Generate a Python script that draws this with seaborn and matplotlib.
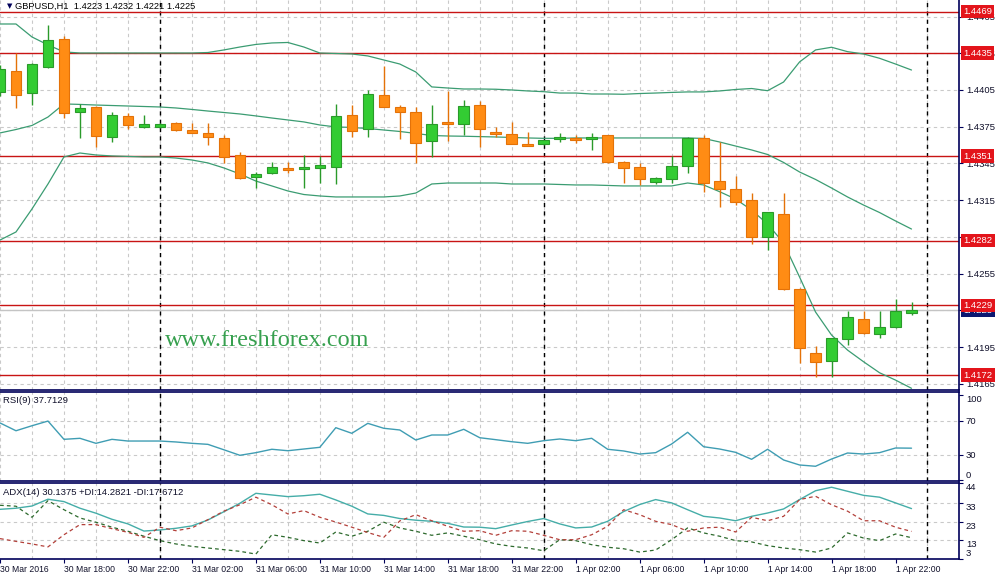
# -*- coding: utf-8 -*-

import numpy as np
import seaborn as sns
import matplotlib.pyplot as plt
from matplotlib import rcParams
from matplotlib.transforms import blended_transform_factory


# GBPUSD H1 bars, 30 Mar 2016 14:00 .. 1 Apr 2016 23:00
bars = np.arange(58)

opens = [1.44036, 1.44205, 1.44023, 1.44240, 1.44464, 1.43873, 1.43911, 1.43664, 1.43838, 1.43750,
         1.43750, 1.43780, 1.43723, 1.43696, 1.43655, 1.43516, 1.43337, 1.43369, 1.43410, 1.43407,
         1.43410, 1.43423, 1.43843, 1.43729, 1.44007, 1.43911, 1.43868, 1.43631, 1.43786, 1.43770,
         1.43925, 1.43710, 1.43688, 1.43609, 1.43606, 1.43650, 1.43658, 1.43647, 1.43682, 1.43459,
         1.43418, 1.43301, 1.43320, 1.43431, 1.43660, 1.43306, 1.43239, 1.43151, 1.42851, 1.43034,
         1.42421, 1.41898, 1.41838, 1.42013, 1.42176, 1.42059, 1.42116, 1.42230]
highs = [1.44250, 1.44350, 1.44273, 1.44581, 1.44491, 1.43936, 1.43919, 1.43870, 1.43860, 1.43846,
         1.43783, 1.43785, 1.43778, 1.43778, 1.43682, 1.43546, 1.43383, 1.43459, 1.43459, 1.43519,
         1.43511, 1.43933, 1.43925, 1.44050, 1.44246, 1.43927, 1.43914, 1.43925, 1.44044, 1.43968,
         1.43963, 1.43750, 1.43789, 1.43704, 1.43645, 1.43696, 1.43682, 1.43696, 1.43685, 1.43467,
         1.43451, 1.43341, 1.43511, 1.43668, 1.43682, 1.43628, 1.43347, 1.43206, 1.43055, 1.43208,
         1.42430, 1.41958, 1.42025, 1.42244, 1.42244, 1.42244, 1.42340, 1.42320]
lows = [1.44000, 1.43905, 1.43927, 1.44232, 1.43819, 1.43655, 1.43587, 1.43628, 1.43731, 1.43742,
        1.43737, 1.43715, 1.43696, 1.43601, 1.43456, 1.43323, 1.43247, 1.43364, 1.43369, 1.43247,
        1.43293, 1.43279, 1.43664, 1.43664, 1.43909, 1.43647, 1.43451, 1.43505, 1.43636, 1.43680,
        1.43587, 1.43669, 1.43605, 1.43590, 1.43602, 1.43628, 1.43614, 1.43560, 1.43455, 1.43288,
        1.43274, 1.43282, 1.43293, 1.43374, 1.43219, 1.43096, 1.43110, 1.42789, 1.42743, 1.42416,
        1.41817, 1.41702, 1.41707, 1.41966, 1.42056, 1.42021, 1.42103, 1.42210]
closes = [1.44219, 1.44012, 1.44262, 1.44456, 1.43865, 1.43905, 1.43677, 1.43843, 1.43767, 1.43772,
          1.43772, 1.43726, 1.43701, 1.43664, 1.43505, 1.43328, 1.43364, 1.43418, 1.43394, 1.43423,
          1.43437, 1.43838, 1.43717, 1.44015, 1.43914, 1.43873, 1.43614, 1.43770, 1.43775, 1.43917,
          1.43729, 1.43691, 1.43609, 1.43592, 1.43641, 1.43666, 1.43641, 1.43666, 1.43459, 1.43410,
          1.43320, 1.43328, 1.43429, 1.43655, 1.43293, 1.43241, 1.43137, 1.42846, 1.43051, 1.42424,
          1.41939, 1.41830, 1.42021, 1.42193, 1.42067, 1.42113, 1.42244, 1.42250]

bb_upper = [1.44589, 1.44589, 1.44483, 1.44418, 1.44361, 1.44352, 1.44352, 1.44352, 1.44352, 1.44352,
            1.44352, 1.44352, 1.44352, 1.44356, 1.44377, 1.44401, 1.44422, 1.44434, 1.44438, 1.44401,
            1.44352, 1.44348, 1.44344, 1.44328, 1.44295, 1.44262, 1.44197, 1.44075, 1.44066, 1.44058,
            1.44058, 1.44056, 1.44050, 1.44042, 1.44036, 1.44025, 1.44025, 1.44017, 1.44017, 1.44015,
            1.44021, 1.44025, 1.44030, 1.44034, 1.44034, 1.44042, 1.44054, 1.44062, 1.44044, 1.44115,
            1.44279, 1.44377, 1.44399, 1.44363, 1.44344, 1.44309, 1.44262, 1.44213]
bb_middle = [1.43699, 1.43727, 1.43760, 1.43829, 1.43936, 1.43932, 1.43927, 1.43923, 1.43919, 1.43915,
             1.43911, 1.43903, 1.43891, 1.43878, 1.43866, 1.43854, 1.43838, 1.43821, 1.43805, 1.43789,
             1.43764, 1.43748, 1.43744, 1.43735, 1.43723, 1.43711, 1.43695, 1.43678, 1.43674, 1.43672,
             1.43669, 1.43666, 1.43662, 1.43658, 1.43655, 1.43655, 1.43658, 1.43658, 1.43658, 1.43658,
             1.43658, 1.43658, 1.43658, 1.43658, 1.43654, 1.43625, 1.43592, 1.43560, 1.43523, 1.43458,
             1.43380, 1.43319, 1.43249, 1.43176, 1.43110, 1.43049, 1.42980, 1.42914]
bb_lower = [1.42824, 1.42890, 1.43078, 1.43282, 1.43503, 1.43535, 1.43519, 1.43511, 1.43507, 1.43503,
            1.43503, 1.43494, 1.43478, 1.43454, 1.43413, 1.43364, 1.43306, 1.43266, 1.43225, 1.43196,
            1.43184, 1.43176, 1.43176, 1.43176, 1.43176, 1.43184, 1.43208, 1.43282, 1.43290, 1.43290,
            1.43290, 1.43290, 1.43282, 1.43282, 1.43282, 1.43278, 1.43274, 1.43274, 1.43270, 1.43266,
            1.43266, 1.43266, 1.43266, 1.43290, 1.43274, 1.43219, 1.43159, 1.43069, 1.42955, 1.42800,
            1.42522, 1.42236, 1.42048, 1.41925, 1.41830, 1.41740, 1.41680, 1.41613]

rsi = [67.4, 58.2, 64.1, 69.6, 48.1, 49.3, 43.4, 48.1, 46.1, 46.1,
       46.1, 45.0, 43.4, 42.2, 35.8, 29.3, 32.4, 36.4, 34.7, 36.7,
       38.7, 61.8, 55.2, 66.9, 61.1, 59.1, 47.3, 53.2, 53.2, 59.9,
       50.0, 47.7, 45.3, 43.4, 46.5, 48.5, 46.5, 49.3, 36.4, 34.4,
       30.8, 32.4, 42.6, 56.4, 39.4, 36.7, 32.8, 24.6, 36.4, 23.8,
       17.9, 16.4, 24.9, 32.0, 30.8, 32.4, 37.9, 37.7]

adx = [29.7, 30.3, 31.5, 35.2, 33.9, 30.3, 27.6, 24.3, 21.8, 17.9,
       18.5, 19.4, 20.7, 23.9, 28.4, 33.0, 38.4, 37.5, 36.6, 37.1,
       37.9, 34.8, 31.4, 27.2, 26.4, 24.7, 23.8, 23.2, 22.1, 20.1,
       20.0, 19.2, 21.2, 23.1, 24.7, 21.8, 19.6, 20.1, 23.2, 28.5,
       32.3, 35.0, 33.2, 29.5, 25.9, 25.0, 23.5, 25.9, 27.7, 29.9,
       35.0, 39.8, 41.7, 39.5, 37.3, 36.3, 33.2, 30.1]
plus_di = [31.9, 31.4, 25.4, 34.4, 29.5, 25.0, 22.7, 20.0, 17.8, 15.1,
           12.7, 10.9, 9.6, 8.7, 7.8, 6.9, 5.4, 15.9, 14.5, 12.7,
           11.4, 17.4, 15.1, 17.8, 22.7, 19.6, 17.8, 15.6, 16.9, 15.1,
           13.2, 10.9, 9.6, 8.7, 7.2, 13.2, 12.7, 10.5, 9.1, 8.3,
           6.5, 7.6, 13.2, 19.6, 16.9, 15.1, 12.7, 12.0, 10.0, 8.7,
           7.8, 6.5, 8.7, 16.9, 14.1, 12.7, 16.3, 14.3]
minus_di = [13.8, 12.3, 10.9, 9.3, 15.9, 21.4, 21.4, 19.2, 17.2, 14.5,
            20.0, 18.1, 19.6, 24.1, 28.7, 32.2, 36.3, 32.2, 27.2, 29.0,
            25.4, 22.8, 20.0, 17.1, 14.5, 23.4, 26.8, 23.5, 20.5, 17.8,
            18.1, 15.6, 18.1, 17.8, 15.6, 13.2, 13.2, 15.9, 20.5, 29.5,
            26.8, 23.2, 21.4, 17.8, 19.6, 20.0, 17.4, 25.4, 23.5, 25.9,
            35.0, 36.8, 32.2, 28.7, 23.5, 23.5, 20.0, 17.7]

time_ticks = [0, 4, 8, 12, 16, 20, 24, 28, 32, 36, 40, 44, 48, 52, 56]
time_labels = ['30 Mar 2016', '30 Mar 18:00', '30 Mar 22:00', '31 Mar 02:00', '31 Mar 06:00',
               '31 Mar 10:00', '31 Mar 14:00', '31 Mar 18:00', '31 Mar 22:00', '1 Apr 02:00',
               '1 Apr 06:00', '1 Apr 10:00', '1 Apr 14:00', '1 Apr 18:00', '1 Apr 22:00']
day_breaks = [10, 34, 58]
sr_levels = [1.4469, 1.4435, 1.4351, 1.4282, 1.4229, 1.4172]
last_price = 1.4225
price_ticks = [1.4165, 1.4195, 1.4225, 1.4255, 1.4285, 1.4315, 1.4345,
               1.4375, 1.4405, 1.4435, 1.4465]
rsi_ticks = [0, 30, 70, 100]
rsi_levels = [30, 70]
adx_ticks = [3, 13, 23, 33, 44]
adx_levels = [13, 23, 33]

# general plot settings
sns.set_theme(style='white')
rcParams['font.family'] = ['Liberation Sans', 'DejaVu Sans']
navy = '#00005a'
txt = '#10102a'
grid_c = '#c9c9c9'
dash = (0, (3, 3))

W, H = 1001, 579
fig = plt.figure(figsize=(W / 100, H / 100), dpi=100)
fig.patch.set_facecolor('white')
right = 959 / W
ax = fig.add_axes([0, 1 - 390 / H, right, 390 / H])
ax_rsi = fig.add_axes([0, 1 - 481 / H, right, 89 / H])
ax_adx = fig.add_axes([0, 1 - 558.5 / H, right, 75.5 / H])

for a in (ax, ax_rsi, ax_adx):
    a.set_facecolor('white')
    a.set_xlim(0, 59.97)
    a.set_xticks(np.arange(0, 60, 2), minor=True)
    a.grid(False)
    a.grid(axis='x', which='minor', color=grid_c, linestyle=dash, linewidth=0.8)
    a.tick_params(axis='x', which='minor', length=0)
    for d in day_breaks:
        a.axvline(d, color='black', linestyle=dash, linewidth=1, zorder=1.5)
    a.spines['left'].set_visible(False)
    for s in ('top', 'right', 'bottom'):
        a.spines[s].set_color(navy)
        a.spines[s].set_linewidth(1.2)
    a.yaxis.tick_right()
    a.tick_params(axis='y', which='major', right=True, left=False, length=3, width=0.8,
                  color=navy, labelsize=6.8, labelcolor=txt, pad=2)
ax.spines['top'].set_visible(False)

# price panel
ax.set_ylim(1.41599, 1.44785)
ax.set_yticks(price_ticks)
ax.set_yticklabels([f'{p:.4f}' for p in price_ticks])
ax.grid(axis='y', which='major', color=grid_c, linestyle=dash, linewidth=0.8)
ax.set_xticks([])

ax.axhline(last_price, color='#c4c4c4', linewidth=1, zorder=1.6)
for lvl in sr_levels:
    ax.axhline(lvl, color='#c81414', linewidth=1, zorder=1.7)

for y in (bb_upper, bb_middle, bb_lower):
    sns.lineplot(x=bars, y=y, ax=ax, color='#3b9c72', linewidth=0.9, errorbar=None, legend=False)

o = np.array(opens)
c = np.array(closes)
up = c >= o
body_fc = np.where(up, '#33cc33', '#ff8c14')
body_ec = np.where(up, '#2a9a2a', '#e47208')
ax.vlines(bars, lows, highs, colors=body_ec, linewidth=1, zorder=3)
ax.bar(bars, np.maximum(np.abs(c - o), 0.00008), bottom=np.minimum(o, c), width=0.66,
       color=body_fc, edgecolor=body_ec, linewidth=0.8, zorder=4)

trans = blended_transform_factory(ax.transAxes, ax.transData)
ax.text(1.0042, last_price, f'{last_price:.4f}', transform=trans, ha='left', va='center',
        fontsize=6.8, color='white', zorder=6,
        bbox=dict(boxstyle='square,pad=0.25', fc='#0c1870', ec='none'))
for lvl in sr_levels:
    ax.text(1.0042, lvl, f'{lvl:.4f}', transform=trans, ha='left', va='center',
            fontsize=6.8, color='white', zorder=7,
            bbox=dict(boxstyle='square,pad=0.25', fc='#e3141b', ec='none'))

ax.set(xlabel='', ylabel='')

# RSI panel
sns.lineplot(x=bars, y=rsi, ax=ax_rsi, color='#3f9db3', linewidth=1, errorbar=None, legend=False)
ax_rsi.set_ylim(-0.94, 103.8)
ax_rsi.set_yticks(rsi_ticks)
ax_rsi.set_yticklabels([str(t) for t in rsi_ticks])
for lvl in rsi_levels:
    ax_rsi.axhline(lvl, color=grid_c, linestyle=dash, linewidth=0.8, zorder=1)
ax_rsi.set_xticks([])
lbls = ax_rsi.get_yticklabels()
lbls[0].set_va('bottom')
lbls[-1].set_va('top')
ax_rsi.text(3 / 959, 0.899, 'RSI(9) 37.7129', transform=ax_rsi.transAxes, fontsize=6.8,
            color=txt, va='center')
ax_rsi.set(xlabel='', ylabel='')

# ADX panel
sns.lineplot(x=bars, y=adx, ax=ax_adx, color='#45ada8', linewidth=1, errorbar=None, legend=False)
sns.lineplot(x=bars, y=plus_di, ax=ax_adx, color='#2d6a2d', linewidth=0.9,
             linestyle=(0, (3, 2.5)), errorbar=None, legend=False)
sns.lineplot(x=bars, y=minus_di, ax=ax_adx, color='#b3403a', linewidth=0.9,
             linestyle=(0, (3, 2.5)), errorbar=None, legend=False)
ax_adx.set_ylim(3, 44)
ax_adx.set_yticks(adx_ticks)
ax_adx.set_yticklabels([str(t) for t in adx_ticks])
for lbl in ax_adx.get_yticklabels():
    lbl.set_va('top')
ax_adx.get_yticklabels()[0].set_va('bottom')
for lvl in adx_levels:
    ax_adx.axhline(lvl, color=grid_c, linestyle=dash, linewidth=0.8, zorder=1)
ax_adx.text(3 / 959, 0.88, 'ADX(14) 30.1375 +DI:14.2821 -DI:17.6712', transform=ax_adx.transAxes,
            fontsize=6.8, color=txt, va='center')
ax_adx.set_xticks(time_ticks)
ax_adx.set_xticklabels(time_labels)
ax_adx.tick_params(axis='x', which='major', bottom=True, length=3, width=0.8, color=navy,
                   labelsize=6.2, labelcolor=txt, pad=1.5)
for lbl in ax_adx.get_xticklabels():
    lbl.set_ha('left')
ax_adx.set(xlabel='', ylabel='')

# header and watermark
fig.text(7 / W, 1 - 6.5 / H, '\u25bc', fontsize=5, color=navy, family=['DejaVu Sans'],
         ha='left', va='center')
fig.text(15 / W, 1 - 6.5 / H, 'GBPUSD,H1  1.4223 1.4232 1.4221 1.4225', fontsize=6.7,
         color='#000000', ha='left', va='center')
fig.text(267 / W, 1 - 341 / H, 'www.freshforex.com', fontsize=17.5, color='#37a04f',
         family=['Liberation Serif', 'DejaVu Serif'], ha='center', va='center')

plt.savefig('out.png', dpi=100, facecolor='white')
